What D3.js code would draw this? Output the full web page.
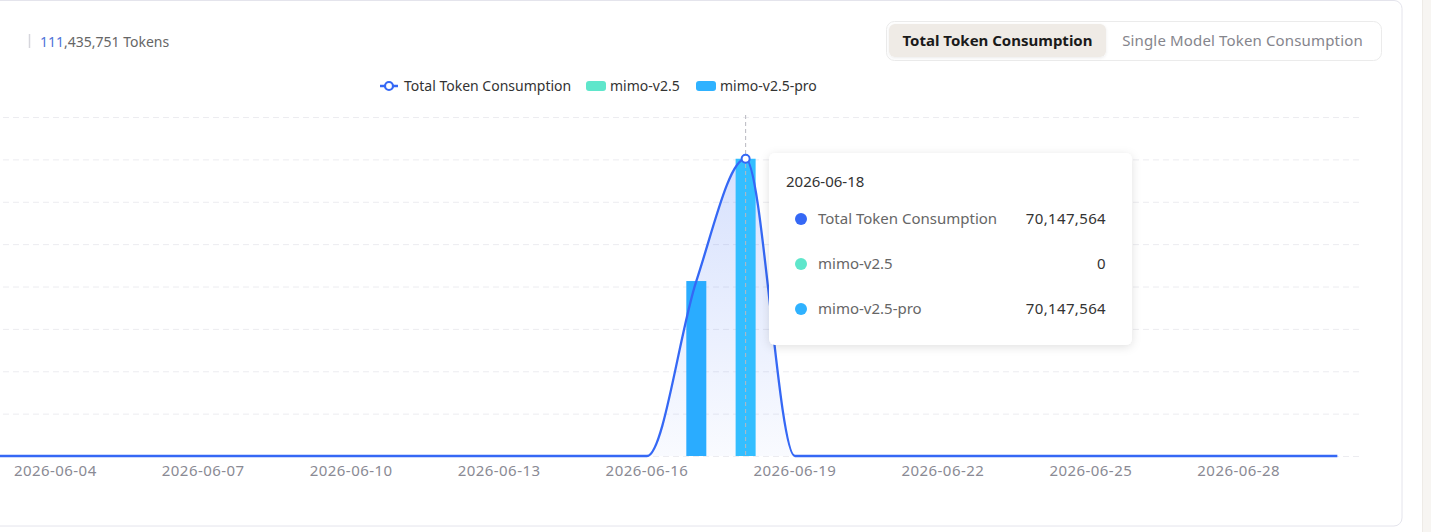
<!DOCTYPE html>
<html>
<head>
<meta charset="utf-8">
<script src="https://cdn.jsdelivr.net/npm/d3@7"></script>
<style>
  html, body { margin: 0; padding: 0; background: #fff; }
  svg { display: block; font-family: "Noto Sans", "Open Sans", sans-serif; }
</style>
</head>
<body>
<svg width="1431" height="532"></svg>
<script>
// categories and series
var dates = ["2026-06-01","2026-06-02","2026-06-03","2026-06-04","2026-06-05","2026-06-06",
  "2026-06-07","2026-06-08","2026-06-09","2026-06-10","2026-06-11","2026-06-12",
  "2026-06-13","2026-06-14","2026-06-15","2026-06-16","2026-06-17","2026-06-18",
  "2026-06-19","2026-06-20","2026-06-21","2026-06-22","2026-06-23","2026-06-24",
  "2026-06-25","2026-06-26","2026-06-27","2026-06-28","2026-06-29","2026-06-30"];
var mimoV25 = [0,0,0,0,0,0,0,0,0,0,0,0,0,0,0,0,0,0,0,0,0,0,0,0,0,0,0,0,0,0];
var mimoV25Pro = [0,0,0,0,0,0,0,0,0,0,0,0,0,0,0,0,41288187,70147564,0,0,0,0,0,0,0,0,0,0,0,0];
var totals = [0,0,0,0,0,0,0,0,0,0,0,0,0,0,0,0,41288187,70147564,0,0,0,0,0,0,0,0,0,0,0,0];
var xLabels = ["2026-06-04","2026-06-07","2026-06-10","2026-06-13","2026-06-16",
  "2026-06-19","2026-06-22","2026-06-25","2026-06-28"];
var yTicks = [0,10000000,20000000,30000000,40000000,50000000,60000000,70000000,80000000];
var seriesNames = ["Total Token Consumption","mimo-v2.5","mimo-v2.5-pro"];
var seriesColors = ["#3568f5","#5fe6cb","#2fb2ff"];
var totalTokens = "111,435,751";
var hoverIndex = 17;

var svg = d3.select("svg");
var fmt = d3.format(",");

var defs = svg.append("defs");
var grad = defs.append("linearGradient").attr("id","areaGrad")
  .attr("x1",0).attr("y1",0).attr("x2",0).attr("y2",1);
grad.append("stop").attr("offset","0%").attr("stop-color","#3568f5").attr("stop-opacity",0.2);
grad.append("stop").attr("offset","100%").attr("stop-color","#3568f5").attr("stop-opacity",0.03);
var sh = defs.append("filter").attr("id","shadow").attr("x","-20%").attr("y","-20%").attr("width","140%").attr("height","140%");
sh.append("feDropShadow").attr("dx",0).attr("dy",2).attr("stdDeviation",5).attr("flood-color","#000").attr("flood-opacity",0.12);
var sh2 = defs.append("filter").attr("id","shadow2").attr("x","-20%").attr("y","-40%").attr("width","140%").attr("height","180%");
sh2.append("feDropShadow").attr("dx",0).attr("dy",1).attr("stdDeviation",1.5).attr("flood-color","#000").attr("flood-opacity",0.08);

// page frame
svg.append("rect").attr("x",1422).attr("y",0).attr("width",9).attr("height",532).attr("fill","#f7f5f2");
svg.append("line").attr("x1",1422.5).attr("x2",1422.5).attr("y1",0).attr("y2",532).attr("stroke","#eeebe7");
svg.append("rect").attr("x",-20).attr("y",0.5).attr("width",1422).attr("height",525.5).attr("rx",8)
  .attr("fill","#fff").attr("stroke","#e4e4ec");

// header
svg.append("line").attr("x1",29.5).attr("x2",29.5).attr("y1",34).attr("y2",48).attr("stroke","#d6d6dc").attr("stroke-width",1.5);
var head = svg.append("text").attr("x",40).attr("y",47).attr("font-size",14);
head.append("tspan").attr("fill","#4f73d9").text(totalTokens.slice(0,3));
head.append("tspan").attr("fill","#666").text(totalTokens.slice(3) + " Tokens");

// segmented control
svg.append("rect").attr("x",886.5).attr("y",21.5).attr("width",495).attr("height",39).attr("rx",8)
  .attr("fill","#fff").attr("stroke","#ebebeb");
svg.append("rect").attr("x",889).attr("y",24).attr("width",217).attr("height",33).attr("rx",6)
  .attr("fill","#efebe6").attr("filter","url(#shadow2)");
svg.append("text").attr("x",997.5).attr("y",41).attr("dy","0.35em").attr("text-anchor","middle")
  .attr("font-size",15).attr("font-weight",700).attr("fill","#1a1a1a").text("Total Token Consumption");
svg.append("text").attr("x",1242.5).attr("y",41).attr("dy","0.35em").attr("text-anchor","middle")
  .attr("font-size",15).attr("letter-spacing",0.15).attr("fill","#85858c").text("Single Model Token Consumption");

// scales
var x = d3.scaleBand().domain(dates).range([-117.3, 1362]);
var cx = function(d) { return x(d) + x.bandwidth() / 2; };
var y = d3.scaleLinear().domain([0, 80000000]).range([456, 117]);

// grid
svg.append("g").selectAll("line").data(yTicks).enter().append("line")
  .attr("x1",-117).attr("x2",1362)
  .attr("y1",function(d){ return y(d) + 0.5; }).attr("y2",function(d){ return y(d) + 0.5; })
  .attr("stroke","#ececf0").attr("stroke-dasharray","6,4");

// area + line
var pts = dates.map(function(d,i){ return [cx(d), totals[i]]; });
svg.append("path").datum(pts)
  .attr("fill","url(#areaGrad)")
  .attr("d", d3.area().curve(d3.curveMonotoneX).x(function(p){ return p[0]; }).y0(y(0)).y1(function(p){ return y(p[1]); }));

// bars (stacked)
var barW = 20;
svg.append("g").selectAll("rect").data(dates).enter().append("rect")
  .attr("x",function(d){ return cx(d) - barW/2; })
  .attr("width",barW)
  .attr("y",function(d,i){ return y(mimoV25[i]); })
  .attr("height",function(d,i){ return y(0) - y(mimoV25[i]); })
  .attr("fill",seriesColors[1]);
svg.append("g").selectAll("rect").data(dates).enter().append("rect")
  .attr("x",function(d){ return cx(d) - barW/2; })
  .attr("width",barW)
  .attr("y",function(d,i){ return y(mimoV25[i] + mimoV25Pro[i]); })
  .attr("height",function(d,i){ return y(mimoV25[i]) - y(mimoV25[i] + mimoV25Pro[i]); })
  .attr("fill",function(d,i){ return i === hoverIndex ? "#33beff" : "#2aacff"; });

// axis pointer
svg.append("line").attr("x1",cx(dates[hoverIndex])).attr("x2",cx(dates[hoverIndex]))
  .attr("y1",115).attr("y2",456).attr("stroke","#b8b8c0").attr("stroke-dasharray","4,3");

svg.append("path").datum(pts)
  .attr("fill","none").attr("stroke",seriesColors[0]).attr("stroke-width",2.3)
  .attr("d", d3.line().curve(d3.curveMonotoneX).x(function(p){ return p[0]; }).y(function(p){ return y(p[1]); }));

svg.append("circle").attr("cx",cx(dates[hoverIndex])).attr("cy",y(totals[hoverIndex]))
  .attr("r",4).attr("fill","#fff").attr("stroke",seriesColors[0]).attr("stroke-width",2);

// x axis labels
var xAxis = svg.append("g").attr("transform","translate(0,456)")
  .call(d3.axisBottom(x).tickValues(xLabels).tickSize(0).tickPadding(9));
xAxis.select(".domain").remove();
xAxis.selectAll("text").attr("font-size",15).attr("letter-spacing",0.45)
  .attr("fill","#8a8a94").attr("font-family","Noto Sans, sans-serif");

// legend
var legend = svg.append("g").attr("font-size",14).attr("fill","#333");
legend.append("line").attr("x1",380).attr("x2",398).attr("y1",86).attr("y2",86).attr("stroke",seriesColors[0]).attr("stroke-width",2.5);
legend.append("circle").attr("cx",389).attr("cy",86).attr("r",4).attr("fill","#fff").attr("stroke",seriesColors[0]).attr("stroke-width",2.2);
legend.append("text").attr("x",404).attr("y",86).attr("dy","0.35em").text(seriesNames[0]);
legend.append("rect").attr("x",586).attr("y",81).attr("width",20).attr("height",10).attr("rx",3).attr("fill",seriesColors[1]);
legend.append("text").attr("x",610).attr("y",86).attr("dy","0.35em").text(seriesNames[1]);
legend.append("rect").attr("x",696).attr("y",81).attr("width",20).attr("height",10).attr("rx",3).attr("fill",seriesColors[2]);
legend.append("text").attr("x",720).attr("y",86).attr("dy","0.35em").text(seriesNames[2]);

// tooltip
var tip = svg.append("g");
tip.append("rect").attr("x",769).attr("y",153).attr("width",363).attr("height",192).attr("rx",6)
  .attr("fill","#fff").attr("filter","url(#shadow)");
tip.append("text").attr("x",786).attr("y",182).attr("dy","0.35em").attr("font-size",15).attr("fill","#333")
  .text(dates[hoverIndex]);
var rowVals = [totals[hoverIndex], mimoV25[hoverIndex], mimoV25Pro[hoverIndex]];
seriesNames.forEach(function(name, k) {
  var ry = 219 + k * 45;
  tip.append("circle").attr("cx",801).attr("cy",ry).attr("r",6).attr("fill",seriesColors[k]);
  tip.append("text").attr("x",818).attr("y",ry).attr("dy","0.35em").attr("font-size",15).attr("fill","#666").text(name);
  tip.append("text").attr("x",1106).attr("y",ry).attr("dy","0.35em").attr("text-anchor","end")
    .attr("font-size",15).attr("letter-spacing",0.35).attr("fill","#333").text(fmt(rowVals[k]));
});
</script>
</body>
</html>
